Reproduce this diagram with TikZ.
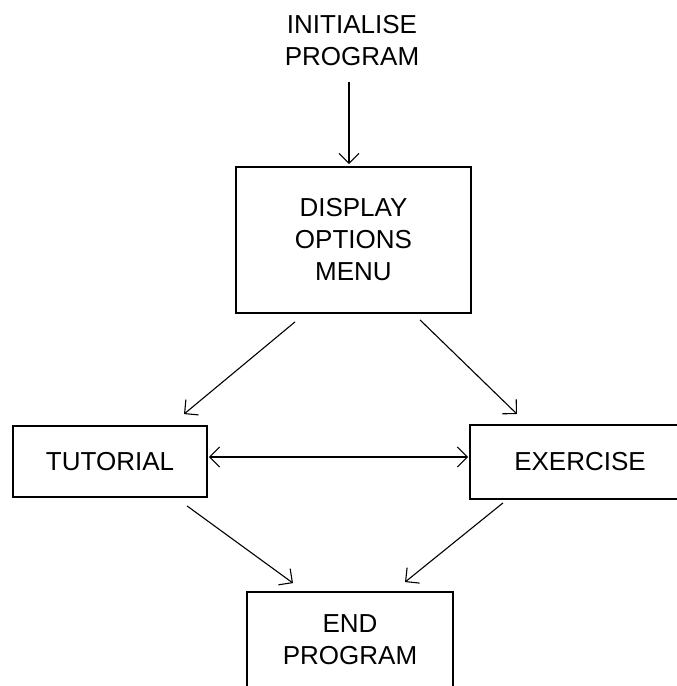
\documentclass[tikz,border=0pt]{standalone}
\usepackage{fontspec}
\setmainfont{Liberation Sans}
\usetikzlibrary{arrows.meta}
\begin{document}
\begin{tikzpicture}[x=1pt,y=-1pt,
  lbl/.style={font=\fontsize{26pt}{32pt}\selectfont, align=center, inner sep=0pt},
  box/.style={lbl, draw, line width=1.8pt, rectangle},
  arr/.style={line width=1.1pt, -{Straight Barb[length=10pt,width=20pt,line width=1.1pt]}}]
% page frame; boxes running past the edge are cut off
\clip (0,0) rectangle (677,686);
\fill[white] (0,0) rectangle (677,686);

% steps of the program
\node[lbl] (init) at (352,41) {INITIALISE\\PROGRAM};
\node[box, minimum width=235pt, minimum height=146pt] (disp) at (353.5,240) {DISPLAY\\OPTIONS\\MENU};
\node[box, minimum width=194pt, minimum height=71pt] (tut) at (110,461.5) {TUTORIAL};
\node[box, minimum width=220pt, minimum height=74pt] (ex) at (580,462) {EXERCISE};
\node[box, minimum width=206pt, minimum height=96pt] (endp) at (350,640) {END\\PROGRAM};

% flow between the steps
\draw[arr] ([xshift=-3pt,yshift=-16pt]init.south) -- ([xshift=-4.5pt,yshift=2pt]disp.north);
\draw[arr] ([xshift=-58.5pt,yshift=-8pt]disp.south) -- ([xshift=74pt,yshift=11pt]tut.north);
\draw[arr] ([xshift=66.5pt,yshift=-6pt]disp.south) -- ([xshift=-63pt,yshift=10pt]ex.north);
\draw[arr, {Straight Barb[length=10pt,width=20pt,line width=1.1pt]}-{Straight Barb[length=10pt,width=20pt,line width=1.1pt]}]
  ([yshift=4.5pt,xshift=1pt]tut.east) -- ([yshift=4.5pt,xshift=-1pt]tut.east -| ex.west);
\draw[arr] ([xshift=77pt,yshift=-8pt]tut.south) -- ([xshift=-57pt,yshift=8pt]endp.north);
\draw[arr] ([xshift=-77pt,yshift=-3pt]ex.south) -- ([xshift=55pt,yshift=9pt]endp.north);
\end{tikzpicture}
\end{document}
